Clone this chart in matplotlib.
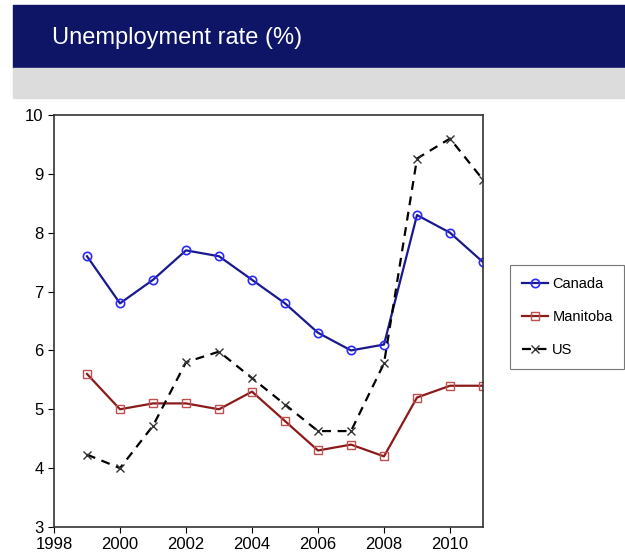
import matplotlib.pyplot as plt
from matplotlib.patches import Rectangle

years = [1999, 2000, 2001, 2002, 2003, 2004, 2005, 2006, 2007, 2008, 2009, 2010, 2011]
canada = [7.6, 6.8, 7.2, 7.7, 7.6, 7.2, 6.8, 6.3, 6.0, 6.1, 8.3, 8.0, 7.5]
manitoba = [5.6, 5.0, 5.1, 5.1, 5.0, 5.3, 4.8, 4.3, 4.4, 4.2, 5.2, 5.4, 5.4]
us = [4.23, 4.0, 4.72, 5.8, 5.98, 5.53, 5.08, 4.63, 4.63, 5.78, 9.26, 9.6, 8.9]

xticks = [1998, 2000, 2002, 2004, 2006, 2008, 2010]
yticks = [3, 4, 5, 6, 7, 8, 9, 10]

plt.rcParams['font.family'] = ['Liberation Sans', 'DejaVu Sans']

fig = plt.figure(figsize=(6.25, 5.6), dpi=100)

# header bands
fig.patches.append(Rectangle((13 / 625, 1 - 68 / 560), 1, 63 / 560,
                             transform=fig.transFigure, color='#0f1566', zorder=0))
fig.patches.append(Rectangle((13 / 625, 1 - 98 / 560), 1, 30 / 560,
                             transform=fig.transFigure, color='#dcdcdc', zorder=0))
fig.text(52 / 625, 1 - 38 / 560, 'Unemployment rate (%)', color='white',
         fontsize=17, va='center', ha='left')

ax = fig.add_axes([54 / 625, 1 - 527 / 560, 429 / 625, 412 / 560])

ax.plot(years, canada, color='#1a1a8c', lw=1.6, marker='o', ms=6,
        mfc='none', mec='#2b2bff', mew=1.2, label='Canada')
ax.plot(years, manitoba, color='#8b1a1a', lw=1.6, marker='s', ms=6,
        mfc='none', mec='#c05050', mew=1.0, label='Manitoba')
ax.plot(years, us, color='black', lw=1.6, ls=(0, (4, 3)), marker='x', ms=6,
        mec='#333333', mew=1.0, label='US')

ax.set_xlim(1998, 2011)
ax.set_ylim(3, 10)
ax.set_xticks(xticks)
ax.set_yticks(yticks)
ax.tick_params(direction='out', labelsize=12, length=4)
for s in ax.spines.values():
    s.set_linewidth(1.2)
    s.set_color('#333333')

leg = ax.legend(loc='center left', bbox_to_anchor=(1.063, 0.51), fontsize=10.5,
                frameon=True, fancybox=False, edgecolor='#555555',
                handlelength=1.8, handletextpad=0.3, borderpad=0.8,
                labelspacing=1.3, borderaxespad=0)
leg.get_frame().set_linewidth(0.8)

fig.savefig('out.png', dpi=100)
